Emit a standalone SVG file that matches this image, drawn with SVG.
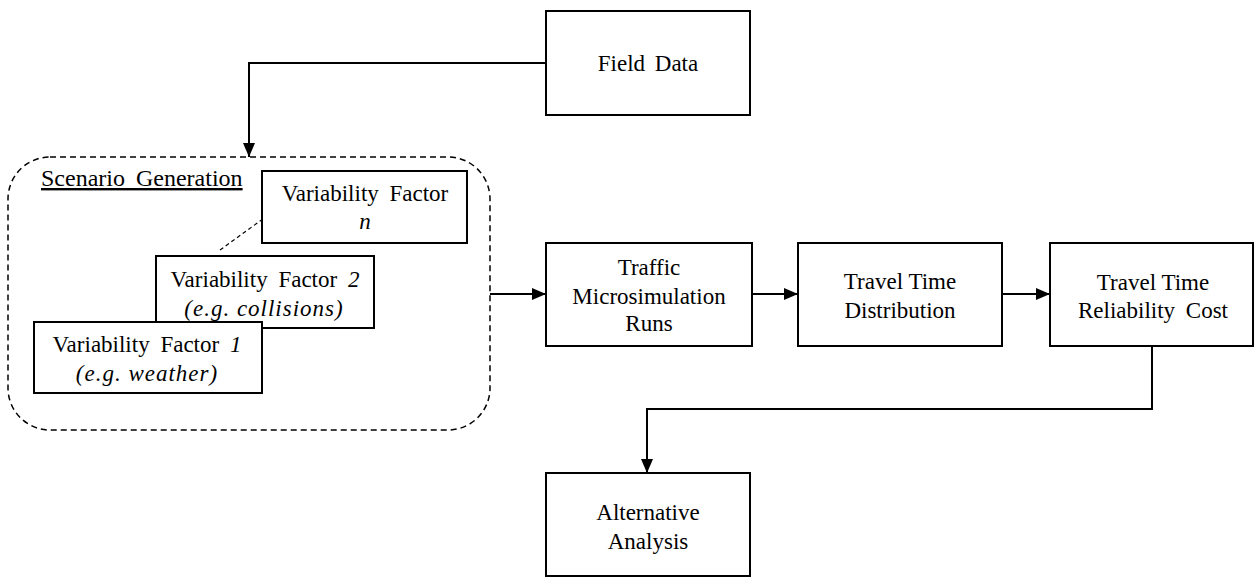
<svg xmlns="http://www.w3.org/2000/svg" width="1254" height="578" viewBox="0 0 1254 578" font-family="Liberation Serif, Times New Roman, Tinos, Noto Serif, FreeSerif, DejaVu Serif, serif">
  <style>
    .box { fill: #ffffff; stroke: #000000; stroke-width: 2; }
    .lbl { font-size: 23px; fill: #000000; text-anchor: middle; }
    .it { font-style: italic; }
    .wire { fill: none; stroke: #000000; stroke-width: 2; }
    .dash { fill: none; stroke: #000000; stroke-width: 1.5; stroke-dasharray: 6 4; }
  </style>
  <defs>
    <marker id="arrow" viewBox="0 0 14 12" refX="14" refY="6" markerWidth="14" markerHeight="12" markerUnits="userSpaceOnUse" orient="auto">
      <path d="M0,0 L14,6 L0,12 Z" fill="#000000"/>
    </marker>
  </defs>

  <rect width="1254" height="578" fill="#ffffff"/>

  <!-- connectors -->
  <g id="connectors">
    <polyline class="wire" points="546,63 249,63 249,157" marker-end="url(#arrow)"/>
    <line class="wire" x1="490" y1="294" x2="546" y2="294" marker-end="url(#arrow)"/>
    <line class="wire" x1="752" y1="294" x2="798" y2="294" marker-end="url(#arrow)"/>
    <line class="wire" x1="1002" y1="294" x2="1050" y2="294" marker-end="url(#arrow)"/>
    <polyline class="wire" points="1152,346 1152,409 647,409 647,473" marker-end="url(#arrow)"/>
  </g>

  <!-- Field Data -->
  <g id="field-data">
    <rect class="box" x="546" y="11" width="204" height="104"/>
    <text class="lbl" x="648" y="71" word-spacing="4">Field Data</text>
  </g>

  <!-- Scenario Generation container -->
  <g id="scenario-generation">
    <rect class="dash" x="8" y="157" width="482" height="273" rx="42" ry="42"/>
    <text class="lbl" x="41" y="186" style="text-anchor:start; font-size:24px" word-spacing="5" text-decoration="underline">Scenario Generation</text>
    <line class="dash" x1="220" y1="250" x2="278" y2="208" style="stroke-width:1.2; stroke-dasharray:4 3"/>
  </g>

  <!-- Variability Factor n -->
  <g id="factor-n">
    <rect class="box" x="262" y="171" width="205" height="72"/>
    <text class="lbl" x="365" y="201" word-spacing="5">Variability Factor</text>
    <text class="lbl it" x="365" y="229">n</text>
  </g>

  <!-- Variability Factor 2 -->
  <g id="factor-2">
    <rect class="box" x="156" y="256" width="218" height="72"/>
    <text class="lbl" x="265" y="287" word-spacing="5">Variability Factor <tspan class="it">2</tspan></text>
    <text class="lbl it" x="264" y="316" letter-spacing="1">(e.g. collisions)</text>
  </g>

  <!-- Variability Factor 1 -->
  <g id="factor-1">
    <rect class="box" x="34" y="322" width="228" height="71"/>
    <text class="lbl" x="147" y="352" word-spacing="5">Variability Factor <tspan class="it">1</tspan></text>
    <text class="lbl it" x="147" y="381" letter-spacing="1">(e.g. weather)</text>
  </g>

  <!-- Traffic Microsimulation Runs -->
  <g id="microsimulation">
    <rect class="box" x="546" y="243" width="206" height="103"/>
    <text class="lbl" x="649" y="275">Traffic</text>
    <text class="lbl" x="649" y="304">Microsimulation</text>
    <text class="lbl" x="649" y="331">Runs</text>
  </g>

  <!-- Travel Time Distribution -->
  <g id="distribution">
    <rect class="box" x="798" y="243" width="204" height="103"/>
    <text class="lbl" x="900" y="289">Travel Time</text>
    <text class="lbl" x="900" y="318">Distribution</text>
  </g>

  <!-- Travel Time Reliability Cost -->
  <g id="reliability-cost">
    <rect class="box" x="1050" y="243" width="203" height="103"/>
    <text class="lbl" x="1153" y="290">Travel Time</text>
    <text class="lbl" x="1153" y="318" word-spacing="5">Reliability Cost</text>
  </g>

  <!-- Alternative Analysis -->
  <g id="alternative-analysis">
    <rect class="box" x="546" y="473" width="204" height="103"/>
    <text class="lbl" x="648" y="520">Alternative</text>
    <text class="lbl" x="648" y="549">Analysis</text>
  </g>
</svg>
